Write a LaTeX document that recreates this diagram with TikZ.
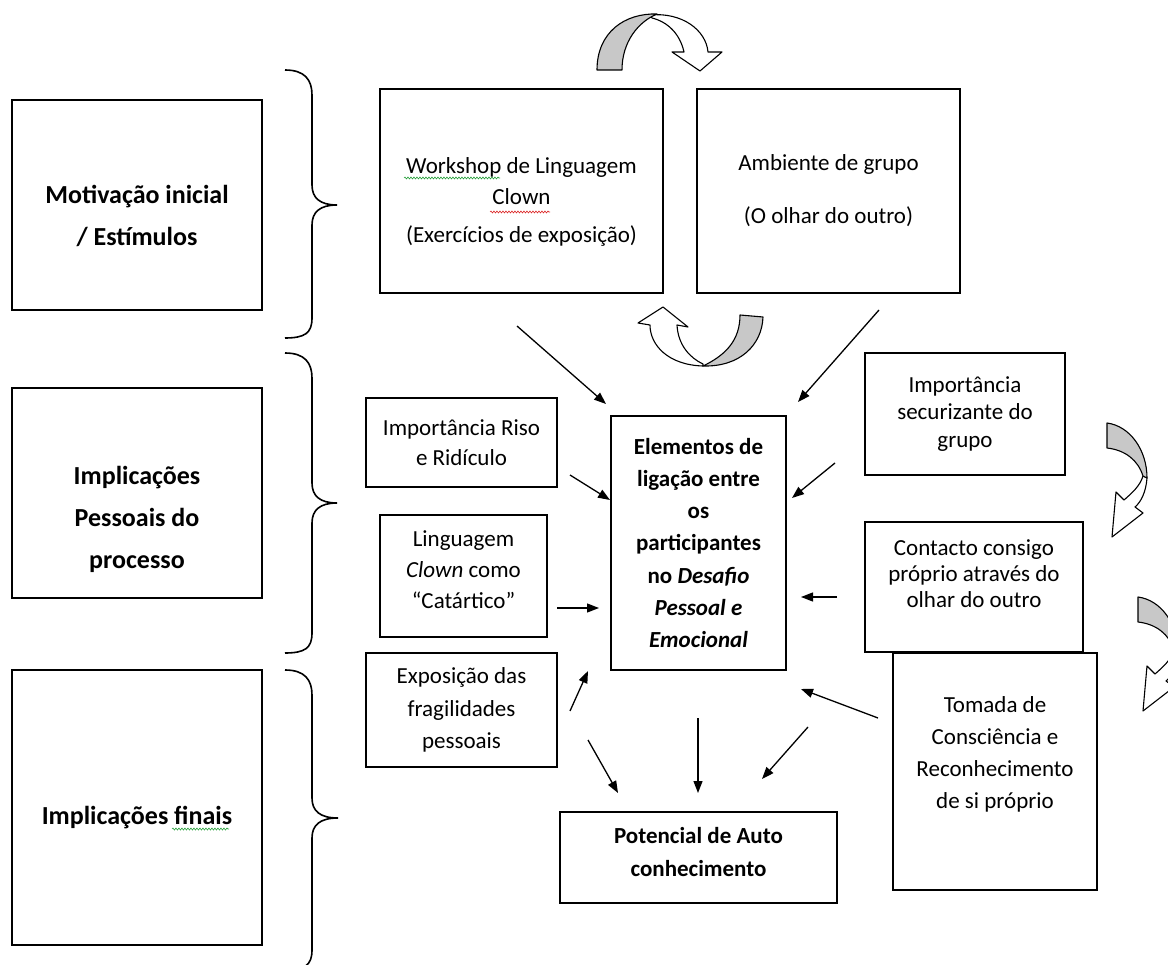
\documentclass[tikz,border=0pt]{standalone}
\usepackage{fontspec}
\setmainfont{Carlito}
\usetikzlibrary{arrows.meta,decorations.pathmorphing}
\definecolor{arrgray}{RGB}{200,200,200}
\definecolor{squigred}{RGB}{220,40,40}
\definecolor{squiggreen}{RGB}{40,160,60}
\begin{document}
\begin{tikzpicture}[x=1pt,y=-1pt,
  box/.style={draw, line width=1.5pt, align=center, inner sep=0pt, font=\fontsize{23}{31}\selectfont},
  bigtxt/.style={align=center, inner sep=0pt, font=\fontsize{26}{42}\selectfont\bfseries},
  txt/.style={align=center, inner sep=0pt},
  arr/.style={line width=1.3pt, -{Triangle[length=12pt,width=9pt]}},
  brace/.style={line width=1.6pt},
  carrow/.style={line width=1.1pt, line join=round},
  squig/.style={line width=0.6pt, decorate, decoration={snake, amplitude=1pt, segment length=3pt}}
]
\useasboundingbox (0,0) rectangle (1168,965);
\clip (0,0) rectangle (1168,965);

% left category boxes
\node[box, minimum width=250pt, minimum height=210pt] (m1) at (137,205) {};
\node[bigtxt] (m1t) at (137,216) {Motivação inicial\\/ Estímulos};
\node[box, minimum width=250pt, minimum height=210pt] (m2) at (137,493) {};
\node[bigtxt] (m2t) at (137,519) {Implicações\\Pessoais do\\processo};
\node[box, minimum width=250pt, minimum height=275pt] (m3) at (137,807.5) {};
\node[bigtxt] (m3t) at (137,818) {Implicações finais};

% braces
\draw[brace] (285,70) .. controls (305,70) and (312,80) .. (312,95) -- (312,185)
  .. controls (312,198) and (320,205) .. (337,205) .. controls (320,205) and (312,212) .. (312,225)
  -- (312,318) .. controls (312,333) and (305,338) .. (285,338);
\draw[brace] (285,353) .. controls (305,353) and (312,363) .. (312,378) -- (312,483)
  .. controls (312,496) and (320,503) .. (337,503) .. controls (320,503) and (312,510) .. (312,523)
  -- (312,633) .. controls (312,648) and (305,653) .. (285,653);
\draw[brace] (285,670) .. controls (305,670) and (312,680) .. (312,695) -- (312,798)
  .. controls (312,811) and (320,818) .. (338,818) .. controls (320,818) and (312,825) .. (312,838)
  -- (312,950) .. controls (312,965) and (305,970) .. (285,970);

% top boxes
\node[box, minimum width=283pt, minimum height=204pt] (ws) at (521.5,191) {};
\node[txt, font=\fontsize{23}{31}\selectfont] (wst) at (521.5,202)
  {Workshop de Linguagem\\Clown\\[7pt](Exercícios de exposição)};
\node[box, minimum width=263pt, minimum height=204pt, font=\fontsize{23}{30}\selectfont] (amb) at (828.5,191)
  {Ambiente de grupo\\[23pt](O olhar do outro)};

% middle boxes
\node[box, minimum width=191pt, minimum height=89pt, font=\fontsize{23}{30}\selectfont] (riso) at (461.5,442.5)
  {Importância Riso\\e Ridículo};
\node[box, minimum width=167pt, minimum height=122pt] (ling) at (463.5,576) {};
\node[txt, font=\fontsize{23}{31}\selectfont] (lingt) at (463.5,570)
  {Linguagem\\\textit{Clown} como\\“Catártico”};
\node[box, minimum width=175pt, minimum height=254pt, font=\fontsize{23}{32.3}\selectfont\bfseries] (el) at (698.5,543)
  {Elementos de\\ligação entre\\os\\participantes\\no \textit{Desafio}\\\textit{Pessoal e}\\\textit{Emocional}};
\node[box, minimum width=191pt, minimum height=114pt, font=\fontsize{23}{32.5}\selectfont] (exp) at (461.5,710)
  {Exposição das\\fragilidades\\pessoais};
\node[box, minimum width=277pt, minimum height=91pt] (pot) at (698.5,857.5) {};
\node[txt, font=\fontsize{23}{33}\selectfont\bfseries] (pott) at (698.5,852)
  {Potencial de Auto\\conhecimento};

% right boxes
\node[box, minimum width=200pt, minimum height=122pt, font=\fontsize{23}{27.5}\selectfont] (sec) at (965,414)
  {Importância\\securizante do\\grupo};
\node[box, minimum width=218pt, minimum height=130pt] (con) at (974,587) {};
\node[txt, font=\fontsize{23}{26}\selectfont] (cont) at (974,574) {Contacto consigo\\próprio através do\\olhar do outro};
\node[box, minimum width=204pt, minimum height=237pt] (tom) at (995,771.5) {};
\node[txt, font=\fontsize{23}{32}\selectfont] (tomt) at (995,754) {Tomada de\\Consciência e\\Reconhecimento\\de si próprio};

% spell-check squiggles
\draw[squig, squiggreen] (404,178) -- (500,178);
\draw[squig, squigred] (490,212) -- (550,212);
\draw[squig, squiggreen] (172,829) -- (229,829);

% connector end points
\coordinate (a1s) at (517,326); \coordinate (a1e) at (606,404);
\coordinate (a2s) at (879,310); \coordinate (a2e) at (798,402);
\coordinate (a3s) at (570,475); \coordinate (a3e) at (610,500);
\coordinate (a4s) at (835,463); \coordinate (a4e) at (792,498);
\coordinate (a5s) at (557,608); \coordinate (a5e) at (599,608);
\coordinate (a6s) at (837,597); \coordinate (a6e) at (801,597);
\coordinate (a7s) at (570,711); \coordinate (a7e) at (588,671);
\coordinate (a8s) at (588,740); \coordinate (a8e) at (618,793);
\coordinate (a9s) at (698,718); \coordinate (a9e) at (698,793);
\coordinate (a10s) at (808,727); \coordinate (a10e) at (762,779);
\coordinate (a11s) at (878,718); \coordinate (a11e) at (801,689);

\draw[arr] (a1s) -- (a1e);
\draw[arr] (a2s) -- (a2e);
\draw[arr] (a3s) -- (a3e);
\draw[arr] (a4s) -- (a4e);
\draw[arr] (a5s) -- (a5e);
\draw[arr] (a6s) -- (a6e);
\draw[arr] (a7s) -- (a7e);
\draw[arr] (a8s) -- (a8e);
\draw[arr] (a9s) -- (a9e);
\draw[arr] (a10s) -- (a10e);
\draw[arr] (a11s) -- (a11e);

% curved block arrows: top
\draw[carrow, fill=white] (650,15) .. controls (682,12) and (706,30) .. (708,52) -- (722,52) -- (700,71)
  -- (672,52) -- (684,52) .. controls (680,34) and (668,22) .. (652,18) -- cycle;
\draw[carrow, fill=arrgray] (597,70) .. controls (597,32) and (625,13) .. (657,14)
  .. controls (638,22) and (622,42) .. (622,70) -- cycle;
% middle
\draw[carrow, fill=white] (703,366) .. controls (668,365) and (650,345) .. (650,325) -- (638,323) -- (663,307)
  -- (688,327) -- (677,325) .. controls (678,345) and (690,358) .. (703,364) -- cycle;
\draw[carrow, fill=arrgray] (740,315) -- (763,317) .. controls (762,345) and (740,367) .. (703,366)
  .. controls (726,355) and (740,340) .. (740,315) -- cycle;
% right ones
\foreach \dx/\dy in {0/0, 31/174}{
\begin{scope}[shift={(\dx,\dy)}]
\draw[carrow, fill=white] (1147,478) .. controls (1146,492) and (1141,502) .. (1135,507) -- (1143,513)
  -- (1112,537) -- (1116,492) -- (1124,500) .. controls (1132,493) and (1140,486) .. (1143,476) -- cycle;
\draw[carrow, fill=arrgray] (1107,423) .. controls (1130,426) and (1147,450) .. (1147,478)
  -- (1143,476) .. controls (1138,460) and (1125,450) .. (1107,448) -- cycle;
\end{scope}}
\end{tikzpicture}
\end{document}
